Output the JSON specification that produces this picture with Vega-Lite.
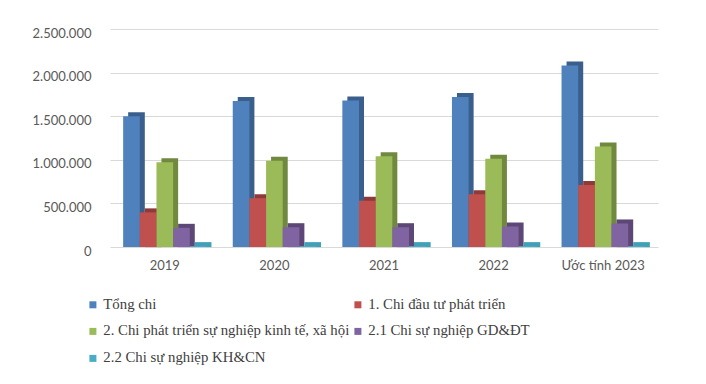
{
  "$schema": "https://vega.github.io/schema/vega-lite/v6.json",
  "autosize": {"type": "none"},
  "width": 548,
  "height": 218,
  "padding": {"left": 110, "top": 29, "right": 48, "bottom": 137},
  "background": "white",
  "config": {
    "locale": {"number": {"decimal": ",", "thousands": ".", "grouping": [3], "currency": ["", ""]}},
    "view": {"stroke": null},
    "axis": {"labelFont": "Lato", "labelFontSize": 13, "labelColor": "#595959", "domain": false, "ticks": false, "title": null}
  },
  "data": {"values": [
    {"year": "2019", "series": "Tổng chi", "value": 1500000},
    {"year": "2019", "series": "1. Chi đầu tư phát triển", "value": 397000},
    {"year": "2019", "series": "2. Chi phát triển sự nghiệp kinh tế, xã hội", "value": 972000},
    {"year": "2019", "series": "2.1 Chi sự nghiệp GD&ĐT", "value": 220000},
    {"year": "2019", "series": "2.2 Chi sự nghiệp KH&CN", "value": 10000},
    {"year": "2020", "series": "Tổng chi", "value": 1675000},
    {"year": "2020", "series": "1. Chi đầu tư phát triển", "value": 560000},
    {"year": "2020", "series": "2. Chi phát triển sự nghiệp kinh tế, xã hội", "value": 990000},
    {"year": "2020", "series": "2.1 Chi sự nghiệp GD&ĐT", "value": 227000},
    {"year": "2020", "series": "2.2 Chi sự nghiệp KH&CN", "value": 10000},
    {"year": "2021", "series": "Tổng chi", "value": 1680000},
    {"year": "2021", "series": "1. Chi đầu tư phát triển", "value": 530000},
    {"year": "2021", "series": "2. Chi phát triển sự nghiệp kinh tế, xã hội", "value": 1040000},
    {"year": "2021", "series": "2.1 Chi sự nghiệp GD&ĐT", "value": 227000},
    {"year": "2021", "series": "2.2 Chi sự nghiệp KH&CN", "value": 10000},
    {"year": "2022", "series": "Tổng chi", "value": 1720000},
    {"year": "2022", "series": "1. Chi đầu tư phát triển", "value": 605000},
    {"year": "2022", "series": "2. Chi phát triển sự nghiệp kinh tế, xã hội", "value": 1013000},
    {"year": "2022", "series": "2.1 Chi sự nghiệp GD&ĐT", "value": 235000},
    {"year": "2022", "series": "2.2 Chi sự nghiệp KH&CN", "value": 10000},
    {"year": "Ước tính 2023", "series": "Tổng chi", "value": 2080000},
    {"year": "Ước tính 2023", "series": "1. Chi đầu tư phát triển", "value": 710000},
    {"year": "Ước tính 2023", "series": "2. Chi phát triển sự nghiệp kinh tế, xã hội", "value": 1153000},
    {"year": "Ước tính 2023", "series": "2.1 Chi sự nghiệp GD&ĐT", "value": 270000},
    {"year": "Ước tính 2023", "series": "2.2 Chi sự nghiệp KH&CN", "value": 10000}
  ]},
  "encoding": {
    "x": {"field": "year", "type": "nominal", "sort": null,
      "scale": {"paddingInner": 0.24, "paddingOuter": 0.12},
      "axis": {"labelAngle": 0, "labelPadding": 12, "grid": false}},
    "y": {"field": "value", "type": "quantitative",
      "scale": {"domain": [0, 2500000], "nice": false},
      "axis": {"values": [0, 500000, 1000000, 1500000, 2000000, 2500000], "format": ",.0f", "labelPadding": 19, "labelOffset": 4, "grid": true, "gridColor": "#D9D9D9", "gridWidth": 1}}
  },
  "layer": [
    {
      "mark": {"type": "bar", "yOffset": -4, "y2Offset": 0.1},
      "encoding": {
        "y2": {"datum": 0},
        "xOffset": {"field": "series", "type": "nominal",
          "sort": ["Tổng chi", "1. Chi đầu tư phát triển", "2. Chi phát triển sự nghiệp kinh tế, xã hội", "2.1 Chi sự nghiệp GD&ĐT", "2.2 Chi sự nghiệp KH&CN"],
          "scale": {"paddingInner": 0, "paddingOuter": 0, "range": [5, 88.3]}},
        "color": {"field": "series", "type": "nominal", "legend": null,
          "sort": ["Tổng chi", "1. Chi đầu tư phát triển", "2. Chi phát triển sự nghiệp kinh tế, xã hội", "2.1 Chi sự nghiệp GD&ĐT", "2.2 Chi sự nghiệp KH&CN"],
          "scale": {"range": ["#3A5F8D", "#8E3A38", "#71893F", "#5C4776", "#3FA0B8"]}}
      }
    },
    {
      "mark": {"type": "bar"},
      "encoding": {
        "xOffset": {"field": "series", "type": "nominal",
          "sort": ["Tổng chi", "1. Chi đầu tư phát triển", "2. Chi phát triển sự nghiệp kinh tế, xã hội", "2.1 Chi sự nghiệp GD&ĐT", "2.2 Chi sự nghiệp KH&CN"],
          "scale": {"paddingInner": 0, "paddingOuter": 0}},
        "color": {"field": "series", "type": "nominal",
          "sort": ["Tổng chi", "2. Chi phát triển sự nghiệp kinh tế, xã hội", "2.2 Chi sự nghiệp KH&CN", "1. Chi đầu tư phát triển", "2.1 Chi sự nghiệp GD&ĐT"],
          "scale": {"range": ["#4F81BD", "#9BBB59", "#4BACC6", "#C0504D", "#8064A2"]},
          "legend": {"orient": "none", "legendX": -24.5, "legendY": 268, "columns": 2, "title": null,
            "symbolType": "square", "symbolSize": 49, "symbolStrokeWidth": 0, "labelOffset": 3,
            "labelFont": "Liberation Serif", "labelFontSize": 14.8, "labelColor": "#404040", "labelLimit": 400,
            "rowPadding": 11, "columnPadding": 1, "padding": 0}}
      }
    }
  ],
  "resolve": {"scale": {"color": "independent", "xOffset": "independent"}}
}
